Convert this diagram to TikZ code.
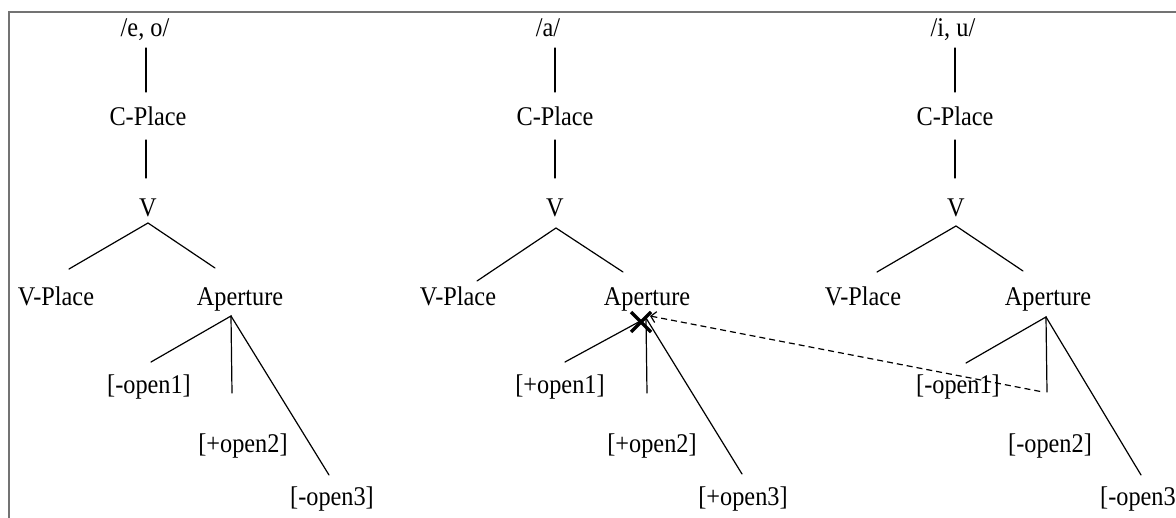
\documentclass[tikz,border=0pt]{standalone}
\usepackage{fontspec}
\setmainfont[FakeStretch=0.9]{Liberation Serif}
\usetikzlibrary{arrows.meta,calc}
\tikzset{
  lbl/.style={inner sep=0pt, anchor=base, font=\fontsize{27}{30}\selectfont},
  edge/.style={line width=1.2pt, line cap=round},
  link/.style={line width=1.2pt, dash pattern=on 6pt off 4pt},
  frame/.style={line width=2pt, draw=black!55},
  strike/.style={line width=3.5pt}
}
\begin{document}
\begin{tikzpicture}[x=1pt, y=-1pt]
\clip (0,0) rectangle (1176,518);
\fill[white] (0,0) rectangle (1176,518);
\draw[frame] (9,518) -- (9,12) -- (1176,12);

% ---------- left tree: /e, o/ ----------
\node[lbl] (t1) at (145,37) {/e, o/};
\node[lbl] (c1) at (148,126) {C-Place};
\node[lbl] (v1) at (148,217) {V};
\node[lbl] (p1) at (56,306) {V-Place};
\node[lbl] (a1) at (240,306) {Aperture};
\node[lbl] (f11) at (149,394) {[-open1]};
\node[lbl] (f12) at (243,453) {[+open2]};
\node[lbl] (f13) at (332,505) {[-open3]};
\coordinate (t1b) at (146,48);  \coordinate (c1t) at (146,92);
\coordinate (c1b) at (146,140); \coordinate (v1t) at (146,178);
\coordinate (v1b) at (148,223);
\coordinate (p1t) at (69,269);  \coordinate (a1t) at (215,268);
\coordinate (a1b) at (231,316);
\coordinate (f11t) at (151,362); \coordinate (f12t) at (232,393); \coordinate (f13t) at (329,475);
\draw[edge] (t1b) -- (c1t);
\draw[edge] (c1b) -- (v1t);
\draw[edge] (p1t) -- (v1b) -- (a1t);
\draw[edge] (f11t) -- (a1b) -- (f12t);
\draw[edge] (a1b) -- (f13t);

% ---------- middle tree: /a/ ----------
\node[lbl] (t2) at (548,37) {/a/};
\node[lbl] (c2) at (555,126) {C-Place};
\node[lbl] (v2) at (555,217) {V};
\node[lbl] (p2) at (458,306) {V-Place};
\node[lbl] (a2) at (647,306) {Aperture};
\node[lbl] (f21) at (560,394) {[+open1]};
\node[lbl] (f22) at (652,453) {[+open2]};
\node[lbl] (f23) at (743,505) {[+open3]};
\coordinate (t2b) at (555,48);  \coordinate (c2t) at (555,92);
\coordinate (c2b) at (555,140); \coordinate (v2t) at (555,178);
\coordinate (v2b) at (556,228);
\coordinate (p2t) at (477,281); \coordinate (a2t) at (623,272);
\coordinate (a2b) at (646,318);
\coordinate (f21t) at (565,362); \coordinate (f22t) at (647,393); \coordinate (f23t) at (742,474);
\draw[edge] (t2b) -- (c2t);
\draw[edge] (c2b) -- (v2t);
\draw[edge] (p2t) -- (v2b) -- (a2t);
\draw[edge] (f21t) -- (a2b) -- (f22t);
\draw[edge] (a2b) -- (f23t);

% ---------- right tree: /i, u/ ----------
\node[lbl] (t3) at (953,37) {/i, u/};
\node[lbl] (c3) at (955,126) {C-Place};
\node[lbl] (v3) at (956,217) {V};
\node[lbl] (p3) at (863,306) {V-Place};
\node[lbl] (a3) at (1048,306) {Aperture};
\node[lbl] (f31) at (958,394) {[-open1]};
\node[lbl] (f32) at (1050,453) {[-open2]};
\node[lbl] (f33) at (1142,505) {[-open3]};
\coordinate (t3b) at (955,48);  \coordinate (c3t) at (955,92);
\coordinate (c3b) at (955,140); \coordinate (v3t) at (955,178);
\coordinate (v3b) at (956,226);
\coordinate (p3t) at (877,272); \coordinate (a3t) at (1023,271);
\coordinate (a3b) at (1046,317);
\coordinate (f31t) at (966,363); \coordinate (f32t) at (1047,392); \coordinate (f33t) at (1141,475);
\draw[edge] (t3b) -- (c3t);
\draw[edge] (c3b) -- (v3t);
\draw[edge] (p3t) -- (v3b) -- (a3t);
\draw[edge] (f31t) -- (a3b) -- (f32t);
\draw[edge] (a3b) -- (f33t);

% ---------- spreading link and delinking mark ----------
\coordinate (sp) at (650,316);
\coordinate (spe) at (1043,392);
\draw[link, {Straight Barb[length=5pt,width=11pt,line width=1.2pt]}-] (sp) -- (spe);
\coordinate (x0) at (641,322);
\draw[strike] ($(x0)+(-10,-10)$) -- ($(x0)+(10,10)$);
\draw[strike] ($(x0)+(-10,10)$) -- ($(x0)+(10,-10)$);
\end{tikzpicture}
\end{document}
